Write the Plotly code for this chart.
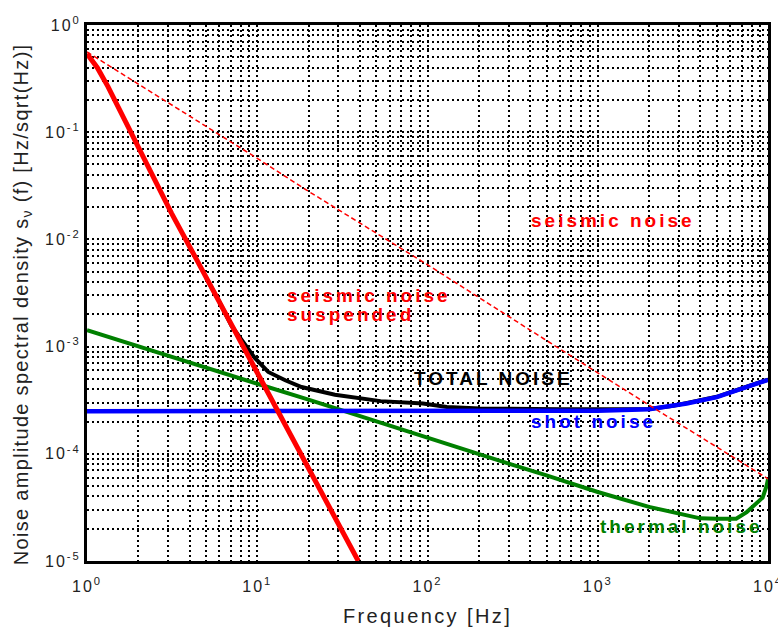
import plotly.graph_objects as go

# ---- data ----
seis_f = [1, 10, 19.5, 100, 479, 1000, 1937, 10000]
seis_v = [0.56, 0.057, 0.0288, 5.8e-3, 1.19e-3, 5.7e-4, 2.94e-4, 5.85e-5]

susp_f = [1, 1.15, 1.33, 1.75, 2.40, 3.14, 4.31, 6.76, 11.1, 17.4, 28, 39.2]
susp_v = [0.54, 0.40, 0.265, 0.112, 0.0412, 0.0175, 6.9e-3, 1.82e-3, 4.2e-4, 1.11e-4, 2.57e-5, 1.0e-5]

therm_f = [1, 2, 3, 5, 10, 20, 30, 50, 100, 200, 300, 500, 1000, 2000, 3000, 4000, 5000, 6500, 7500, 8500, 9300, 9800, 10000]
therm_v = [1.42e-3, 1.0e-3, 8.2e-4, 6.4e-4, 4.5e-4, 3.2e-4, 2.6e-4, 2.0e-4, 1.4e-4, 1.0e-4, 8.1e-5, 6.3e-5,
           4.4e-5, 3.2e-5, 2.75e-5, 2.5e-5, 2.48e-5, 2.48e-5, 2.86e-5, 3.4e-5, 3.9e-5, 5.0e-5, 5.8e-5]

shot_f = [1, 100, 1000, 2000, 2770, 3330, 5000, 7500, 10000]
shot_v = [2.5e-4, 2.5e-4, 2.52e-4, 2.6e-4, 2.78e-4, 2.95e-4, 3.38e-4, 4.2e-4, 4.9e-4]

total_f = [5.0, 5.9, 7.08, 8.1, 9.7, 11.6, 14.6, 18.2, 28.6, 53, 94, 130, 203, 600, 2000, 2770, 3330, 5000, 7500, 10000]
total_v = [4.4e-3, 2.75e-3, 1.55e-3, 1.15e-3, 7.8e-4, 5.8e-4, 4.85e-4, 4.2e-4, 3.56e-4, 3.1e-4, 2.94e-4, 2.73e-4,
           2.65e-4, 2.6e-4, 2.62e-4, 2.8e-4, 2.97e-4, 3.4e-4, 4.22e-4, 4.93e-4]

x_tickvals = [1, 10, 100, 1000, 10000]
x_ticktext = ["10<sup>0</sup>", "10<sup>1</sup>", "10<sup>2</sup>", "10<sup>3</sup>", "10<sup>4</sup>"]
y_tickvals = [1, 1e-1, 1e-2, 1e-3, 1e-4, 1e-5]
y_ticktext = ["10<sup>0</sup>", "10<sup>-1</sup>", "10<sup>-2</sup>", "10<sup>-3</sup>", "10<sup>-4</sup>", "10<sup>-5</sup>"]

RED = "#ff0000"
GREEN = "#008000"
BLUE = "#0000ff"

fig = go.Figure()
fig.add_trace(go.Scatter(x=total_f, y=total_v, mode="lines", line=dict(color="black", width=4)))
fig.add_trace(go.Scatter(x=therm_f, y=therm_v, mode="lines", line=dict(color=GREEN, width=4)))
fig.add_trace(go.Scatter(x=shot_f, y=shot_v, mode="lines", line=dict(color=BLUE, width=4.5)))
fig.add_trace(go.Scatter(x=susp_f, y=susp_v, mode="lines", line=dict(color=RED, width=5)))
fig.add_trace(go.Scatter(x=seis_f, y=seis_v, mode="lines", line=dict(color=RED, width=1.5, dash="5px,3px")))

minor_x = [m * 10 ** d for d in range(4) for m in range(2, 10)]
minor_y = [m * 10.0 ** d for d in range(-5, 0) for m in range(2, 10)]

grid = dict(gridcolor="black", gridwidth=1.5, griddash="2px,3px")
axis_common = dict(showline=True, mirror=True, linecolor="black", linewidth=3, ticks="",
                   showgrid=True, zeroline=False, ticklabeloverflow="allow",
                   tickfont=dict(family="Liberation Sans, Arial", size=16, color="#222"),
                   automargin=False, **grid)

fig.update_xaxes(type="log", range=[0, 4], tickmode="array", tickvals=x_tickvals, ticktext=x_ticktext,
                 ticklabelstandoff=9,
                 minor=dict(tickmode="array", tickvals=minor_x, showgrid=True, **grid),
                 title=dict(text="Frequency [Hz]", font=dict(family="Liberation Sans, Arial", size=20, color="#222"),
                            standoff=15),
                 **axis_common)
fig.update_yaxes(type="log", range=[-5, 0], tickmode="array", tickvals=y_tickvals, ticktext=y_ticktext,
                 minor=dict(tickmode="array", tickvals=minor_y, showgrid=True, **grid),
                 **axis_common)

ann_font = lambda c: dict(family="Liberation Sans, Arial", size=19, color=c, weight="bold")
notes = [
    ("seismic noise", 2.596, -1.82, RED),
    ("seismic noise", 1.163, -2.52, RED),
    ("suspended", 1.163, -2.70, RED),
    ("TOTAL NOISE", 1.909, -3.30, "black"),
    ("shot noise", 2.597, -3.70, BLUE),
    ("thermal noise", 3.003, -4.68, GREEN),
]
for txt, x, y, c in notes:
    fig.add_annotation(text=txt, x=x, y=y, xref="x", yref="y", xanchor="left", yanchor="middle",
                       showarrow=False, font=ann_font(c), align="left")

fig.add_annotation(text="Noise amplitude spectral density s<sub>ν</sub> (f) [Hz/sqrt(Hz)]",
                   xref="paper", yref="paper", x=-0.094, y=0.48, textangle=-90,
                   xanchor="center", yanchor="middle", showarrow=False,
                   font=dict(family="Liberation Sans, Arial", size=20, color="#222"))

fig.update_layout(width=778, height=631, margin=dict(l=87, r=10, t=25, b=70),
                  paper_bgcolor="white", plot_bgcolor="white", showlegend=False)

post = """
document.body.style.margin = '0';
document.body.style.padding = '0';
function ls(){
  document.querySelectorAll('.annotation-text').forEach(function(e){
    e.style.letterSpacing = (e.textContent.indexOf('Noise amplitude') === 0) ? '1.3px' : '3px';
  });
  document.querySelectorAll('.xtick text, .ytick text').forEach(function(e){ e.style.letterSpacing = '2px'; });
  document.querySelectorAll('.xtitle').forEach(function(e){ e.style.letterSpacing = '2.4px'; });
}
ls();
"""
fig.write_html("out.html", post_script=post, config={"displayModeBar": False})
